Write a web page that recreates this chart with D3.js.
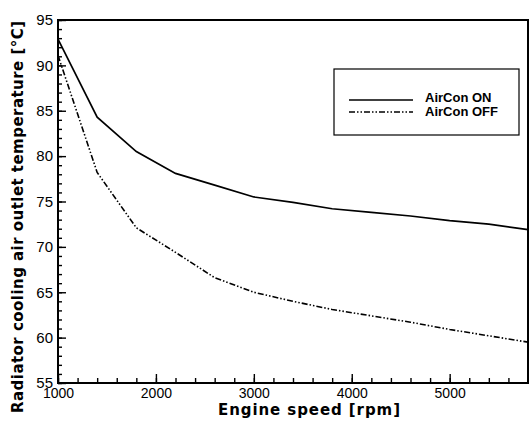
<!DOCTYPE html>
<html>
<head>
<meta charset="utf-8">
<script src="https://cdn.jsdelivr.net/npm/d3@7"></script>
<style>
  body { margin: 0; background: #fff; }
  svg { display: block; }
</style>
</head>
<body>
<svg id="chart"></svg>
<script>
// Engine speed samples [rpm]
const speeds = [1000, 1400, 1800, 2200, 2600, 3000, 3400, 3800, 4200, 4600, 5000, 5400, 5800];
// Radiator cooling air outlet temperature [°C]
const airconOn = [92.9, 84.3, 80.5, 78.1, 76.8, 75.5, 74.9, 74.2, 73.8, 73.4, 72.9, 72.5, 71.9];
const airconOff = [91.1, 78.2, 72.1, 69.4, 66.6, 65.0, 64.0, 63.1, 62.4, 61.7, 60.9, 60.2, 59.5];
const seriesNames = ["AirCon ON", "AirCon OFF"];

const xMajor = [1000, 2000, 3000, 4000, 5000];
const xMinor = d3.range(1000, 5801, 200);
const yMajor = [55, 60, 65, 70, 75, 80, 85, 90, 95];
const yMinor = d3.range(55, 96, 1);

const width = 529, height = 423;
const margin = { top: 20, right: 1, bottom: 40, left: 58 };
const plotW = width - margin.left - margin.right;
const plotH = height - margin.top - margin.bottom;

const svg = d3.select("#chart")
  .attr("width", width)
  .attr("height", height);

const g = svg.append("g")
  .attr("transform", `translate(${margin.left},${margin.top})`);

const x = d3.scaleLinear().domain([1000, 5800]).range([0, plotW]);
const y = d3.scaleLinear().domain([55, 95]).range([plotH, 0]);

// minor ticks (inward)
g.append("g")
  .attr("transform", `translate(0,${plotH})`)
  .call(d3.axisBottom(x).tickValues(xMinor).tickSizeInner(-5).tickSizeOuter(0).tickFormat(""))
  .call(a => a.select(".domain").remove());
g.append("g")
  .call(d3.axisLeft(y).tickValues(yMinor).tickSizeInner(-4).tickSizeOuter(0).tickFormat(""))
  .call(a => a.select(".domain").remove());

// major ticks with labels
const xAxis = g.append("g")
  .attr("transform", `translate(0,${plotH})`)
  .call(d3.axisBottom(x).tickValues(xMajor).tickSizeInner(-9).tickSizeOuter(0).tickPadding(5).tickFormat(d3.format("d")));
xAxis.select(".domain").remove();
xAxis.selectAll("text")
  .style("font-family", "'Liberation Sans', Arial, sans-serif")
  .style("font-size", "14px")
  .attr("fill", "#000");

const yAxis = g.append("g")
  .call(d3.axisLeft(y).tickValues(yMajor).tickSizeInner(-8).tickSizeOuter(0).tickPadding(5));
yAxis.select(".domain").remove();
yAxis.selectAll("text")
  .style("font-family", "'Liberation Sans', Arial, sans-serif")
  .style("font-size", "15px")
  .attr("fill", "#000");

g.selectAll(".tick line").attr("stroke", "#000").attr("stroke-width", 1.4);

// frame
g.append("rect")
  .attr("width", plotW)
  .attr("height", plotH)
  .attr("fill", "none")
  .attr("stroke", "#000")
  .attr("stroke-width", 2);

// lines
const line = d3.line()
  .x((d, i) => x(speeds[i]))
  .y(d => y(d));

g.append("path")
  .datum(airconOn)
  .attr("d", line)
  .attr("fill", "none")
  .attr("stroke", "#000")
  .attr("stroke-width", 1.7);

g.append("path")
  .datum(airconOff)
  .attr("d", line)
  .attr("fill", "none")
  .attr("stroke", "#000")
  .attr("stroke-width", 1.6)
  .attr("stroke-dasharray", "6,2,1.5,2,1.5,2");

// legend
const legend = svg.append("g").attr("transform", "translate(334,69)");
legend.append("rect")
  .attr("width", 185)
  .attr("height", 66)
  .attr("fill", "#fff")
  .attr("stroke", "#000")
  .attr("stroke-width", 1.2);

const dashes = [null, "6,2,1.5,2,1.5,2"];
seriesNames.forEach((name, i) => {
  const yy = 31 + i * 12;
  legend.append("line")
    .attr("x1", 15).attr("x2", 79)
    .attr("y1", yy).attr("y2", yy)
    .attr("stroke", "#000")
    .attr("stroke-width", 1.6)
    .attr("stroke-dasharray", dashes[i]);
  legend.append("text")
    .attr("x", 91)
    .attr("y", 32.5 + i * 14.5)
    .style("font-family", "'Liberation Sans', Arial, sans-serif")
    .style("font-size", "13px")
    .style("font-weight", "bold")
    .text(name);
});

// axis titles
svg.append("text")
  .attr("x", 309)
  .attr("y", 415)
  .attr("text-anchor", "middle")
  .attr("textLength", 182)
  .attr("lengthAdjust", "spacing")
  .style("font-family", "'DejaVu Sans', sans-serif")
  .style("font-size", "15px")
  .style("font-weight", "bold")
  .text("Engine speed [rpm]");

svg.append("text")
  .attr("transform", "translate(23,217) rotate(-90)")
  .attr("text-anchor", "middle")
  .attr("textLength", 392)
  .attr("lengthAdjust", "spacing")
  .style("font-family", "'DejaVu Sans', sans-serif")
  .style("font-size", "15px")
  .style("font-weight", "bold")
  .text("Radiator cooling air outlet temperature [°C]");
</script>
</body>
</html>
